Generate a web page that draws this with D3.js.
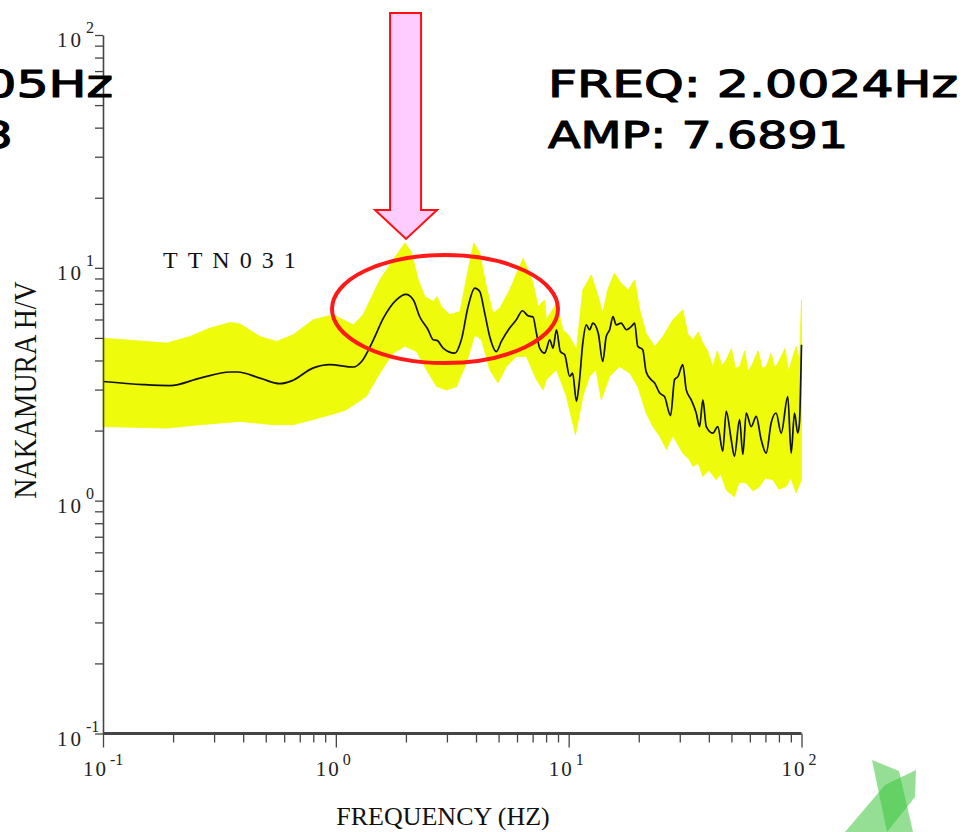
<!DOCTYPE html>
<html><head><meta charset="utf-8">
<script src="https://cdn.jsdelivr.net/npm/d3@7"></script>
<style>
html,body{margin:0;padding:0;background:#fff;}
svg{display:block;}
</style></head>
<body>
<svg id="chart" width="969" height="832"></svg>
<script>
// ---- data ----
const meanFreq = [0.1,0.149,0.194,0.261,0.351,0.379,0.472,0.575,0.646,0.796,
 0.942,1.19,1.29,1.45,1.60,1.82,2.00,2.15,2.29,2.49,
 2.62,2.72,2.89,3.24,3.46,3.70,3.95,4.15,4.36,4.58,
 4.89,5.14,5.58,5.96,6.33,6.69,7.03,7.27,7.51,7.89,
 8.02,8.29,8.57,8.86,9.21,9.62,10.1,10.4,10.8,11.1,
 11.5,11.9,12.3,12.7,13.4,14.0,14.5,15.0,15.5,16.0,
 16.8,17.7,18.6,19.2,19.8,20.8,21.5,22.6,23.4,24.6,
 25.8,27.4,28.5,29.5,30.9,32.0,33.6,35.3,36.5,37.7,
 39.0,41.6,43.7,45.9,47.5,49.9,51.5,54.2,56.0,57.9,
 60.8,63.9,67.1,70.5,74.1,77.8,81.8,87.3,90.3,93.3,
 96.4,98.0,100];
const meanHV = [3.25,3.15,3.12,3.36,3.57,3.57,3.36,3.18,3.27,3.71,
 3.84,3.75,3.96,4.91,6.08,7.29,7.69,7.29,6.18,5.42,
 4.91,4.88,4.52,4.30,4.91,6.82,8.18,7.91,6.39,5.07,
 4.37,4.83,5.51,5.98,6.54,6.22,6.15,5.24,4.52,4.30,
 4.45,4.91,4.52,5.42,4.37,4.23,3.42,3.53,2.67,3.20,
 4.75,5.69,5.42,5.79,5.24,3.96,5.07,5.42,6.18,5.69,
 5.79,5.42,5.60,5.79,4.60,4.45,3.59,3.31,3.20,2.90,
 2.80,2.32,3.31,3.42,3.84,2.99,2.71,2.38,2.08,2.71,
 2.08,1.95,2.08,1.63,2.42,1.83,1.55,2.23,1.58,2.38,
 2.08,2.30,1.83,1.60,2.16,2.38,1.95,2.80,1.60,2.38,
 1.95,2.16,4.67];

const upperFreq = [0.1,0.188,0.236,0.288,0.351,0.387,0.472,0.557,0.656,0.798,
 0.973,1.19,1.31,1.545,1.76,1.98,2.11,2.26,2.41,2.62,
 2.72,2.84,3.08,3.41,3.70,3.91,4.15,4.43,4.73,5.06,
 5.58,6.06,6.37,6.69,7.03,7.39,7.89,8.02,8.86,9.45,
 10.1,10.8,11.5,12.5,13.4,14.0,14.7,15.7,16.8,18.0,
 19.2,20.2,21.5,23.4,25.4,28.0,30.9,32.5,34.2,36.0,
 37.7,39.5,41.6,43.5,45.5,47.5,50.0,52.0,54.2,57.0,
 59.0,61.8,65.0,68.0,70.5,74.0,77.0,80.5,85.0,88.0,
 91.8,95.0,98.0,100];
const upperHV = [4.99,4.75,5.07,5.51,5.82,5.75,5.07,4.83,5.16,5.98,
 6.29,5.69,6.29,8.88,10.8,12.8,11.7,8.88,7.53,7.17,
 7.53,6.82,6.29,6.49,9.8,12.8,11.6,8.31,6.39,6.71,
 8.04,9.8,11.0,9.8,8.60,6.82,7.29,5.98,7.05,5.42,
 5.07,4.45,8.04,9.33,7.53,6.39,8.04,9.49,8.60,8.04,
 8.88,6.60,5.24,4.60,5.07,5.98,6.60,5.2,4.91,5.3,
 4.75,4.4,3.77,4.4,3.8,4.03,4.5,3.7,3.77,4.4,
 3.6,3.90,4.4,3.7,3.77,4.3,3.7,4.03,4.5,3.6,
 4.16,4.6,4.0,7.29];

const lowerFreq = [0.1,0.188,0.261,0.387,0.538,0.656,0.798,1.01,1.11,1.35,
 1.545,1.76,1.98,2.22,2.45,2.71,2.99,3.30,3.64,3.95,
 4.22,4.58,4.97,5.40,5.96,6.58,7.27,7.76,8.02,8.86,
 9.78,10.7,11.5,12.3,13.1,13.8,15.0,16.5,18.3,19.8,
 21.5,23.0,24.6,26.3,28.0,30.9,33.0,34.2,36.0,37.7,
 40.0,43.0,45.0,47.5,51.5,54.0,57.9,62.0,66.0,70.0,
 75.3,80.0,85.9,90.0,94.8,100];
const lowerHV = [2.08,2.05,2.12,2.19,2.12,2.12,2.23,2.38,2.46,2.80,
 3.53,4.30,4.60,4.37,3.65,3.09,2.99,3.09,3.90,5.16,
 4.91,3.65,3.20,3.77,4.16,4.16,3.31,2.99,3.31,3.65,
 2.80,1.92,2.80,3.42,3.65,2.71,3.42,3.77,3.53,3.09,
 2.38,2.08,1.89,1.66,1.90,1.60,1.5,1.40,1.45,1.27,
 1.35,1.23,1.3,1.11,1.04,1.2,1.19,1.1,1.15,1.25,
 1.23,1.12,1.15,1.25,1.08,1.23];

const majorTicks = [0.1, 1, 10, 100];
const majorExponents = ["-1", "0", "1", "2"];
const stationName = "TTN031";
const xTitle = "FREQUENCY (HZ)";
const yTitle = "NAKAMURA H/V";
const peakFreq = 2.0024;
const peakAmp = 7.6891;
const annotLines = ["FREQ: " + peakFreq.toFixed(4) + "Hz", "AMP: " + peakAmp.toFixed(4)];
const prevAnnotLines = ["FREQ: 3.9805Hz", "AMP: 8.1763"];

// ---- scales ----
const svg = d3.select("#chart");
const x = d3.scaleLog().domain([0.1, 100]).range([103, 801.5]);
const y = d3.scaleLog().domain([0.1, 100]).range([733.5, 35]);

const minorTicks = [];
[0.1, 1, 10].forEach(d => { for (let k = 2; k <= 9; k++) minorTicks.push(+(d * k).toPrecision(3)); });

// ---- band ----
const bandPts = upperFreq.map((f, i) => [x(f), y(upperHV[i])])
  .concat(lowerFreq.map((f, i) => [x(f), y(lowerHV[i])]).reverse());
svg.append("path")
  .attr("d", d3.line().curve(d3.curveLinearClosed)(bandPts))
  .attr("fill", "#eefb0a")
  .attr("stroke", "#eefb0a")
  .attr("stroke-width", 0.8);

// ---- mean line ----
const meanLine = d3.line()
  .x((d, i) => x(meanFreq[i]))
  .y(d => y(d))
  .curve(d3.curveMonotoneX);
svg.append("path")
  .attr("d", meanLine(meanHV))
  .attr("fill", "none")
  .attr("stroke", "#111")
  .attr("stroke-width", 1.7)
  .attr("stroke-linejoin", "round");

// ---- axes ----
const serif = "'Liberation Serif','DejaVu Serif',serif";
// y axis
const yAxis = d3.axisLeft(y).tickValues(majorTicks.concat(minorTicks)).tickSize(8).tickSizeOuter(0).tickFormat("");
const gy = svg.append("g").attr("transform", "translate(103,0)").call(yAxis);
gy.select(".domain").attr("stroke", "#444").attr("stroke-width", 1.6);
gy.selectAll(".tick line").attr("stroke", "#444").attr("stroke-width", 1.3);

// x axis minor + major
const xMinor = d3.axisBottom(x).tickValues(minorTicks).tickSize(9).tickSizeOuter(0).tickFormat("");
const gx = svg.append("g").attr("transform", "translate(0,733.5)").call(xMinor);
gx.select(".domain").remove();
gx.selectAll(".tick line").attr("stroke", "#444").attr("stroke-width", 1.3);
const xMajor = d3.axisBottom(x).tickValues(majorTicks).tickSize(14).tickSizeOuter(0).tickFormat("");
const gx2 = svg.append("g").attr("transform", "translate(0,733.5)").call(xMajor);
gx2.select(".domain").remove();
gx2.selectAll(".tick line").attr("stroke", "#444").attr("stroke-width", 1.3);
svg.append("line").attr("x1", x(0.1)).attr("x2", x(100)).attr("y1", 733.5).attr("y2", 733.5)
  .attr("stroke", "#444").attr("stroke-width", 3);

// y tick labels
majorTicks.forEach((t, i) => {
  const yy = y(t);
  svg.append("text").attr("x", 57).attr("y", yy + 12)
    .attr("font-family", serif).attr("font-size", 21).attr("letter-spacing", 3)
    .attr("fill", "#222").text("10");
  svg.append("text").attr("x", 86).attr("y", yy - 2)
    .attr("font-family", serif).attr("font-size", 16)
    .attr("fill", "#222").text(majorExponents[i]);
});
// x tick labels
majorTicks.forEach((t, i) => {
  const xx = x(t);
  svg.append("text").attr("x", xx - 20).attr("y", 776)
    .attr("font-family", serif).attr("font-size", 21).attr("letter-spacing", 2)
    .attr("fill", "#222").text("10");
  svg.append("text").attr("x", xx + 7).attr("y", 765)
    .attr("font-family", serif).attr("font-size", 16)
    .attr("fill", "#222").text(majorExponents[i]);
});

// titles
svg.append("text").attr("x", 443).attr("y", 825).attr("text-anchor", "middle")
  .attr("font-family", serif).attr("font-size", 26).attr("fill", "#111").text(xTitle);
svg.append("text").attr("transform", "translate(36,390) rotate(-90) scale(0.87,1)")
  .attr("text-anchor", "middle")
  .attr("font-family", serif).attr("font-size", 32).attr("fill", "#111").text(yTitle);
svg.append("text").attr("x", 163).attr("y", 268)
  .attr("font-family", serif).attr("font-size", 24).attr("letter-spacing", 10)
  .attr("fill", "#111").text(stationName);

// ---- annotations ----
const ax = x(peakFreq);
const arrow = [[ax - 16, 13], [ax + 15, 13], [ax + 15, 210], [ax + 31, 210], [ax, 239],
               [ax - 31, 210], [ax - 16, 210]];
svg.append("path").attr("d", d3.line().curve(d3.curveLinearClosed)(arrow))
  .attr("fill", "#ffccff").attr("stroke", "#ff1010").attr("stroke-width", 2);

svg.append("ellipse").attr("cx", 445).attr("cy", 309).attr("rx", 113).attr("ry", 54)
  .attr("fill", "none").attr("stroke", "#ff1a1a").attr("stroke-width", 4);

const handFont = "'Comic Sans MS','DejaVu Sans',sans-serif";
function hand(txt, xx, yy, len) {
  svg.append("text").attr("x", xx).attr("y", yy).attr("font-family", handFont)
    .attr("font-size", 38).attr("textLength", len).attr("lengthAdjust", "spacingAndGlyphs")
    .attr("fill", "#000").attr("stroke", "#000").attr("stroke-width", 1.2)
    .attr("stroke-linejoin", "round").text(txt);
}
hand(annotLines[0], 548, 97, 410);
hand(annotLines[1], 548, 148, 300);
hand(prevAnnotLines[0], 113 - 410, 97, 410);
hand(prevAnnotLines[1], 13 - 300, 148, 300);

// ---- logo ----
const logoA = [[872,760],[899,771],[913,832],[887,832]];
const logoB = [[845,832],[885,785],[916,770],[915,797],[887,832]];
[logoA, logoB].forEach(p => {
  svg.append("path").attr("d", d3.line().curve(d3.curveLinearClosed)(p))
    .attr("fill", "#3cc43c").attr("fill-opacity", 0.55);
});
</script>
</body></html>
